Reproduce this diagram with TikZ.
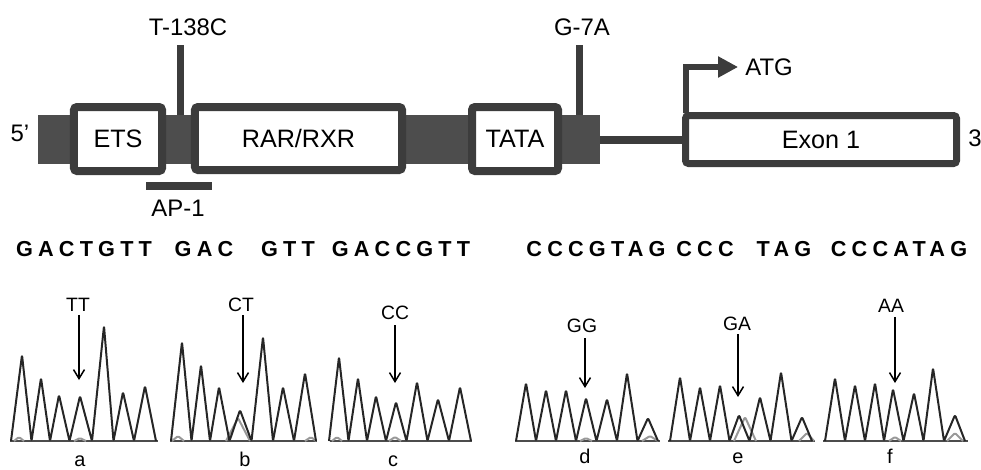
\documentclass[tikz,border=0pt]{standalone}
\usepackage{fontspec}
\setmainfont{Liberation Sans}
\newfontfamily\seqfont[LetterSpace=24]{Liberation Sans}
\usetikzlibrary{arrows.meta}
\definecolor{dk}{HTML}{3C3C3C}
\definecolor{blk}{HTML}{4D4D4D}
\begin{document}
\begin{tikzpicture}[x=0.03cm,y=-0.03cm,
  box/.style={draw=dk, line width=0.24cm, fill=white, rounded corners=0.09cm, inner sep=0pt, font=\fontsize{21.5}{24}\selectfont},
  lbl/.style={inner sep=0pt, font=\fontsize{20.4}{24}\selectfont},
  bar/.style={draw=dk, line width=0.21cm},
  thickline/.style={draw=dk, line width=0.24cm},
  seq/.style={inner sep=0pt, font=\seqfont\bfseries\fontsize{18.5}{20}\selectfont},
  gt/.style={inner sep=0pt, font=\fontsize{16.5}{20}\selectfont},
  pan/.style={inner sep=0pt, anchor=base, font=\fontsize{17}{20}\selectfont},
  trace/.style={draw=black!85, line width=0.06cm, rounded corners=0.04cm, line join=round},
  gtrace/.style={draw=black!40, line width=0.06cm, rounded corners=0.04cm, line join=round},
  base/.style={draw=black!70, line width=0.06cm},
  pointer/.style={draw=black, line width=0.045cm, -{Straight Barb[length=0.27cm, width=0.33cm]}},
]
\useasboundingbox (0,0) rectangle (981,469);

% ---------- gene map ----------
\node[fill=blk, inner sep=0pt, minimum width=16.86cm, minimum height=1.47cm] (band) at (319,139.5) {};
\node[box, minimum width=2.64cm, minimum height=1.92cm] (ets) at (118,139) {ETS};
\node[box, minimum width=6.21cm, minimum height=1.89cm] (rar) at (298.5,138.5) {RAR/RXR};
\node[box, minimum width=2.58cm, minimum height=1.92cm] (tata) at (515,139) {TATA};
\node[box, line width=0.21cm, minimum width=8.13cm, minimum height=1.44cm] (exon) at (821,139.5) {Exon 1};

\node[lbl] (five) at (20,133) {5'};
\node[lbl] (three) at (975,138) {3};

\draw[thickline] (band.east) -- (exon.west);

\node[lbl] (t138) at (188,27) {T-138C};
\coordinate (m1) at (180.5,45);
\draw[bar] (m1) -- (m1 |- band.north);

\node[lbl] (g7a) at (582,27) {G-7A};
\coordinate (m2) at (579,45);
\draw[bar] (m2) -- (m2 |- band.north);

\coordinate (ap1l) at (146,186);
\coordinate (ap1r) at (212,186);
\draw[thickline] (ap1l) -- (ap1r);
\node[lbl] (ap1) at (178,208) {AP-1};

\node[lbl] (atg) at (769,67) {ATG};
\coordinate (atgbase) at (685.5,113);
\draw[draw=dk, line width=0.18cm, -{Triangle[length=0.6cm, width=0.6cm]}] (atgbase) |- ([xshift=-0.21cm]atg.west);

% ---------- sequences ----------
\node[seq] (s1) at (84,249) {GACTGTT};
\node[seq] (s2) at (204,249) {GAC};
\node[seq] (s3) at (288,249) {GTT};
\node[seq] (s4) at (401,249) {GACCGTT};
\node[seq] (s5) at (596,249) {CCCGTAG};
\node[seq] (s6) at (705,249) {CCC};
\node[seq] (s7) at (784,249) {TAG};
\node[seq] (s8) at (899,249) {CCCATAG};

% ---------- chromatograms ----------
% panel a
\draw[base] (10,441) -- (158,441);
\draw[gtrace] (14,441) -- (19,437) -- (24,441) (74,441) -- (80,438) -- (86,441);
\draw[trace] (11,441) -- (22,355) -- (31.5,441) -- (41,378) -- (50,441) -- (59,395) -- (69.5,441) -- (80,396) -- (92,441) -- (104,326) -- (113.5,441) -- (123,392) -- (134,441) -- (145,386) -- (156,441);
% panel b
\draw[base] (170,441) -- (317,441);
\draw[gtrace] (172,441) -- (178,436) -- (184,441) (226,441) -- (238,418) -- (250,441) (305,441) -- (311,437) -- (316,441);
\draw[trace] (171,441) -- (182,342) -- (191.5,441) -- (201,365) -- (210,441) -- (219,387) -- (229.5,441) -- (240,410) -- (251.5,441) -- (263,337) -- (273,441) -- (283,387) -- (294,441) -- (305,373) -- (316,441);
% panel c
\draw[base] (330,441) -- (472,441);
\draw[gtrace] (332,441) -- (337,437) -- (342,441) (389,441) -- (395,437) -- (401,441);
\draw[trace] (329,441) -- (339,357) -- (348.5,441) -- (358,378) -- (367,441) -- (376,396) -- (386,441) -- (396,402) -- (406.5,441) -- (417,382) -- (427.5,441) -- (438,399) -- (449,441) -- (460,387) -- (471,441);
% panel d
\draw[base] (515,441) -- (660,441);
\draw[gtrace] (580,441) -- (586,438) -- (592,441) (642,441) -- (650,436) -- (658,441);
\draw[trace] (516,441) -- (526,383) -- (536,441) -- (546,390) -- (556,441) -- (566,390) -- (576,441) -- (586,398) -- (596.5,441) -- (607,399) -- (617,441) -- (627,373) -- (637.5,441) -- (648,418) -- (658,441);
% panel e
\draw[base] (668,441) -- (815,441);
\draw[gtrace] (734,441) -- (745,417) -- (756,441) (799,441) -- (807,433) -- (814,441);
\draw[trace] (670,441) -- (680,377) -- (690,441) -- (700,387) -- (710,441) -- (720,385) -- (729.5,441) -- (739,415) -- (749.5,441) -- (760,397) -- (770.5,441) -- (781,372) -- (791.5,441) -- (802,417) -- (812,441);
% panel f
\draw[base] (823,441) -- (968,441);
\draw[gtrace] (889,441) -- (895,437) -- (901,441) (947,441) -- (955,433) -- (963,441);
\draw[trace] (825,441) -- (835,378) -- (845,441) -- (855,385) -- (865,441) -- (875,383) -- (884,441) -- (893,389) -- (903.5,441) -- (914,393) -- (923.5,441) -- (933,368) -- (944,441) -- (955,415) -- (965,441);

% genotype labels and pointers
\node[gt] (lTT) at (78,305) {TT};
\node[gt] (lCT) at (241,305) {CT};
\node[gt] (lCC) at (395,313) {CC};
\node[gt] (lGG) at (582,326) {GG};
\node[gt] (lGA) at (737,324) {GA};
\node[gt] (lAA) at (891,306) {AA};
\coordinate (tTT) at (79,380);
\coordinate (tCT) at (243,383);
\coordinate (tCC) at (395,383);
\coordinate (tGG) at (585,388);
\coordinate (tGA) at (738,397);
\coordinate (tAA) at (895,383);
\draw[pointer] ([yshift=-0.09cm]lTT.south -| tTT) -- (tTT);
\draw[pointer] ([yshift=-0.09cm]lCT.south -| tCT) -- (tCT);
\draw[pointer] ([yshift=-0.15cm]lCC.south -| tCC) -- (tCC);
\draw[pointer] ([yshift=-0.15cm]lGG.south -| tGG) -- (tGG);
\draw[pointer] ([yshift=-0.09cm]lGA.south -| tGA) -- (tGA);
\draw[pointer] ([yshift=-0.12cm]lAA.south -| tAA) -- (tAA);

\node[pan] (pa) at (80,466) {a};
\node[pan] (pb) at (245,466) {b};
\node[pan] (pc) at (393,466) {c};
\node[pan] (pd) at (585,463) {d};
\node[pan] (pe) at (738,463) {e};
\node[pan] (pf) at (890,463) {f};
\end{tikzpicture}
\end{document}
